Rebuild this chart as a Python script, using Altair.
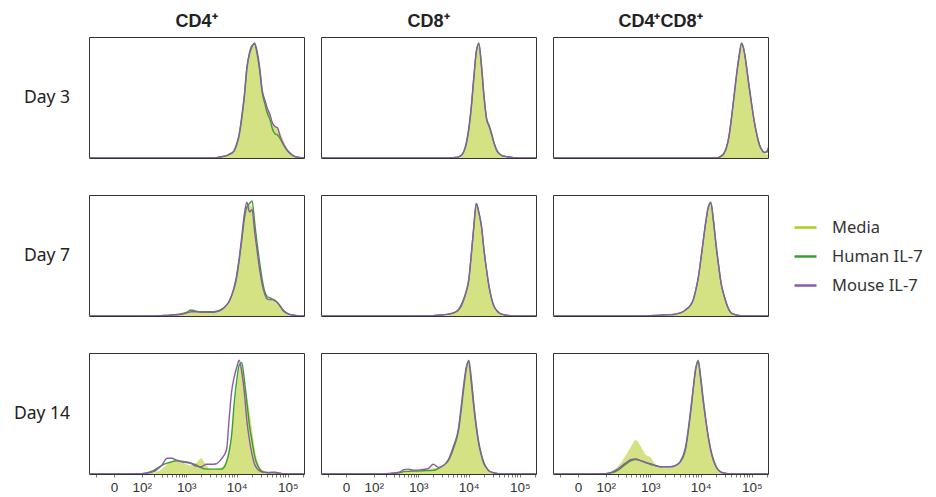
import altair as alt
import pandas as pd

# Bin centres (fluorescence intensity)
X_VALUES = [-100, 0, 100, 200, 300, 400, 500, 630, 800, 1000,
            1260, 1580, 2000, 2510, 3160, 3980, 5010, 6310, 7080, 7940,
            8910, 10000, 11200, 12600, 14100, 15800, 17800, 20000, 22400, 25100,
            28200, 31600, 35500, 39800, 44700, 50100, 56200, 63100, 70800, 79400,
            89100, 100000, 112000, 126000, 141000, 158000, 178000, 200000, 224000]

SERIES = ["Media", "Human IL-7", "Mouse IL-7"]
COLORS = ["#b3ca1f", "#3c9d35", "#8b5aa9"]
MARKERS = ["CD4⁺", "CD8⁺", "CD4⁺CD8⁺"]
DAYS = ["Day 3", "Day 7", "Day 14"]
TICK_VALUES = [0, 100, 1000, 10000, 100000]
TICK_LABELS = ["0", "10²", "10³", "10⁴", "10⁵"]
MINOR_TICKS = [-50, 200, 300, 400, 500, 600, 700, 800, 900,
               2000, 3000, 4000, 5000, 6000, 7000, 8000, 9000,
               20000, 30000, 40000, 50000, 60000, 70000, 80000, 90000, 200000]

# ---- Day 3 ----
CD4_D3_MEDIA = [0, 0, 0, 0, 0, 0, 0, 0, 0, 0,
                0, 0, 0, 0, 0, 0.4, 1.2, 2.3, 3.3, 4.5,
                7, 13, 21, 36, 53, 76, 86, 91, 93, 87,
                76, 58, 50, 42, 37, 30, 27, 25, 21, 16,
                11, 7, 4.5, 2.5, 1.3, 0.7, 0.3, 0.1, 0]
CD4_D3_HUMAN = [0, 0, 0, 0, 0, 0, 0, 0, 0, 0,
                0, 0, 0, 0, 0, 0.3, 1, 2, 3, 4,
                6, 11, 19, 33, 50, 73, 87, 93, 94, 86,
                72, 54, 45, 37, 32, 24, 20, 19, 16, 12,
                8.5, 5.5, 3.5, 2, 1, 0.6, 0.3, 0.1, 0]
CD4_D3_MOUSE = [0, 0, 0, 0, 0, 0, 0, 0, 0, 0,
                0, 0, 0, 0, 0, 0.3, 1, 2, 3, 4,
                6, 12, 20, 35, 52, 75, 86, 92, 95, 88,
                75, 56, 48, 41, 36, 29, 26, 25, 18, 13,
                9, 6, 4, 2.3, 1.2, 0.7, 0.3, 0.1, 0]

CD8_D3_MEDIA = [0, 0, 0, 0, 0, 0, 0, 0, 0, 0,
                0, 0, 0, 0, 0, 0, 0.3, 1, 2, 5,
                12, 24, 42, 66, 87, 93, 75, 50, 33, 27,
                20, 13, 6.5, 3.5, 2, 1.5, 1, 0.8, 0.5, 0.3,
                0.2, 0, 0, 0, 0, 0, 0, 0, 0]
CD8_D3_HUMAN = [0, 0, 0, 0, 0, 0, 0, 0, 0, 0,
                0, 0, 0, 0, 0, 0, 0.3, 1, 2, 5,
                11, 23, 41, 66, 88, 95, 77, 51, 33, 27,
                20, 12, 6.5, 3.5, 2, 1.5, 1, 0.8, 0.5, 0.3,
                0.2, 0, 0, 0, 0, 0, 0, 0, 0]
CD8_D3_MOUSE = [0, 0, 0, 0, 0, 0, 0, 0, 0, 0,
                0, 0, 0, 0, 0, 0, 0.3, 1, 2, 5,
                12, 24, 42, 67, 88, 94, 75, 50, 32, 26,
                19, 12, 6, 3.5, 2, 1.5, 1, 0.8, 0.5, 0.3,
                0.2, 0, 0, 0, 0, 0, 0, 0, 0]

DP_D3_MEDIA = [0, 0, 0, 0, 0, 0, 0, 0, 0, 0,
               0, 0, 0, 0, 0, 0, 0, 0, 0, 0,
               0, 0, 0, 0, 0, 0, 0, 0.5, 1, 2.5,
               5, 10, 19, 34, 52, 70, 84, 92, 86, 73,
               57, 42, 29, 18, 10, 6, 4, 3, 2]
DP_D3_HUMAN = [0, 0, 0, 0, 0, 0, 0, 0, 0, 0,
               0, 0, 0, 0, 0, 0, 0, 0, 0, 0,
               0, 0, 0, 0, 0, 0, 0, 0.2, 0.5, 1.5,
               3.5, 8, 17, 32, 50, 68, 84, 95, 89, 75,
               59, 44, 30, 19, 11, 6.5, 4.5, 5, 9]
DP_D3_MOUSE = [0, 0, 0, 0, 0, 0, 0, 0, 0, 0,
               0, 0, 0, 0, 0, 0, 0, 0, 0, 0,
               0, 0, 0, 0, 0, 0, 0, 0.2, 0.5, 1.5,
               3.5, 8, 17, 32, 50, 68, 83, 94, 88, 74,
               58, 43, 30, 19, 11, 6.5, 4.5, 6, 13]

# ---- Day 7 ----
CD4_D7_MEDIA = [0, 0, 0, 0, 0.3, 0.5, 0.8, 1, 1.5, 2.5,
                3.5, 3.5, 3, 3, 3, 3.5, 5, 9, 12, 17,
                24, 33, 47, 65, 82, 91, 92, 90, 74, 57,
                41, 28, 19, 15, 14, 14, 13, 11, 8, 5,
                3, 2, 1.2, 0.8, 0.4, 0.2, 0, 0, 0]
CD4_D7_HUMAN = [0, 0, 0, 0, 0.3, 0.5, 0.8, 1.2, 2, 3,
                5, 4, 3.5, 3.5, 3.5, 4, 5.5, 9, 12, 17,
                23, 32, 46, 63, 80, 90, 93, 95, 78, 60,
                44, 30, 20, 16, 15, 14, 13, 11, 8.5, 5.5,
                3.5, 2, 1.2, 0.8, 0.4, 0.2, 0, 0, 0]
CD4_D7_MOUSE = [0, 0, 0, 0, 0.3, 0.5, 0.8, 1, 1.3, 2.5,
                3.5, 3.5, 3, 3, 3, 3.5, 5, 9, 12, 17,
                24, 34, 48, 66, 84, 94, 86, 88, 70, 54,
                38, 26, 18, 14, 13.5, 13.5, 12.5, 11, 8, 5,
                3, 2, 1.2, 0.8, 0.4, 0.2, 0, 0, 0]

CD8_D7_MEDIA = [0, 0, 0, 0, 0, 0, 0, 0, 0, 0,
                0, 0, 0.3, 0.6, 1, 1.5, 2.5, 5, 8, 13,
                20, 30, 50, 73, 91, 85, 73, 54, 38, 24,
                14, 7.7, 4.5, 2.5, 1.5, 1, 0.5, 0.3, 0, 0,
                0, 0, 0, 0, 0, 0, 0, 0, 0]
CD8_D7_HUMAN = [0, 0, 0, 0, 0, 0, 0, 0, 0, 0,
                0, 0, 0.3, 0.6, 1, 1.5, 2.5, 5.5, 9, 14,
                20, 30, 50, 74, 93, 86, 74, 54, 38, 24,
                14, 7.7, 4.5, 2.5, 1.5, 1, 0.5, 0.3, 0, 0,
                0, 0, 0, 0, 0, 0, 0, 0, 0]
CD8_D7_MOUSE = [0, 0, 0, 0, 0, 0, 0, 0, 0, 0,
                0, 0, 0.3, 0.6, 1, 1.5, 2.5, 5, 8, 13,
                20, 29, 50, 74, 93, 85, 74, 54, 38, 24,
                14, 7.7, 4.5, 2.5, 1.5, 1, 0.5, 0.3, 0, 0,
                0, 0, 0, 0, 0, 0, 0, 0, 0]

DP_D7_MEDIA = [0, 0, 0, 0, 0, 0, 0, 0, 0, 0.3,
               0.5, 0.7, 0.9, 1.1, 1.5, 2.5, 5, 9, 13, 21,
               31, 46, 62, 78, 89, 92, 78, 58, 42, 27,
               18, 11, 5.5, 2.5, 1.5, 0.8, 0.4, 0, 0, 0,
               0, 0, 0, 0, 0, 0, 0, 0, 0]
DP_D7_HUMAN = [0, 0, 0, 0, 0, 0, 0, 0, 0, 0.3,
               0.5, 0.7, 0.9, 1.1, 1.5, 2.5, 5, 9, 13, 21,
               31, 46, 62, 78, 90, 94, 79, 59, 42, 27,
               18, 11, 5.5, 2.5, 1.5, 0.8, 0.4, 0, 0, 0,
               0, 0, 0, 0, 0, 0, 0, 0, 0]
DP_D7_MOUSE = [0, 0, 0, 0, 0, 0, 0, 0, 0, 0.3,
               0.5, 0.7, 0.9, 1.1, 1.5, 2.5, 5, 9, 13, 21,
               31, 46, 62, 78, 90, 93, 78, 58, 42, 27,
               18, 11, 5.5, 2.5, 1.5, 0.8, 0.4, 0, 0, 0,
               0, 0, 0, 0, 0, 0, 0, 0, 0]

# ---- Day 14 ----
CD4_D14_MEDIA = [0, 0, 0, 1, 4, 8, 11, 12, 10, 8,
                 7, 9, 13, 7, 4, 4.5, 5.5, 12, 22, 35,
                 52, 70, 86, 90, 76, 64, 52, 37, 22, 12,
                 6, 3.5, 2.5, 1.5, 1, 1, 0.8, 0.5, 0.3, 0,
                 0, 0, 0, 0, 0, 0, 0, 0, 0]
CD4_D14_HUMAN = [0, 0, 0.3, 3, 7, 9, 10, 11, 10.5, 10,
                 9, 7.5, 5, 4, 4, 4, 4, 10, 18, 32,
                 58, 77, 90, 92, 78, 60, 40, 27, 15, 8,
                 4, 2, 1.3, 1, 1, 1, 1, 0.6, 0.4, 0.2,
                 0, 0, 0, 0, 0, 0, 0, 0, 0]
CD4_D14_MOUSE = [0, 0, 0.2, 2, 7, 13, 13, 11.5, 10, 9.5,
                 8.5, 6.5, 6, 8, 8, 8.5, 12.5, 20, 45, 68,
                 80, 88, 94, 84, 68, 44, 28, 16, 8, 4.5,
                 2.5, 1.7, 1.5, 1.3, 1.3, 1.5, 1.5, 1, 0.6, 0.3,
                 0.2, 0, 0, 0, 0, 0, 0, 0, 0]

CD8_D14_MEDIA = [0, 0, 0, 0.1, 0.6, 1.2, 2.5, 2.8, 3, 3.2,
                 3.5, 4, 5, 5, 7, 12, 22, 37, 53, 71,
                 87, 93, 79, 58, 40, 26, 16, 9, 5, 2.5,
                 1.5, 0.8, 0.4, 0.2, 0, 0, 0, 0, 0, 0,
                 0, 0, 0, 0, 0, 0, 0, 0, 0]
CD8_D14_HUMAN = [0, 0, 0, 0.1, 0.5, 1, 2, 2.2, 2.4, 2.5,
                 2.7, 2.8, 3, 4.5, 7, 11, 21, 36, 52, 70,
                 86, 94, 80, 58, 40, 26, 16, 9, 5, 2.5,
                 1.5, 0.8, 0.4, 0.2, 0, 0, 0, 0, 0, 0,
                 0, 0, 0, 0, 0, 0, 0, 0, 0]
CD8_D14_MOUSE = [0, 0, 0, 0.2, 0.8, 1.5, 3.5, 4, 3.2, 3.2,
                 3.8, 4.5, 8, 5.5, 7, 12, 23, 38, 55, 73,
                 88, 93, 76, 55, 38, 24.5, 15, 8, 5, 2.5,
                 1.5, 0.8, 0.4, 0.2, 0, 0, 0, 0, 0, 0,
                 0, 0, 0, 0, 0, 0, 0, 0, 0]

DP_D14_MEDIA = [0, 0, 0.5, 6, 15, 23, 28, 23, 16, 14,
                8, 5.5, 5, 5, 7, 9, 20, 50, 68, 85,
                93, 80, 62, 46, 32, 21, 12, 6.5, 3.2, 1.6,
                0.8, 0.4, 0.2, 0, 0, 0, 0, 0, 0, 0,
                0, 0, 0, 0, 0, 0, 0, 0, 0]
DP_D14_HUMAN = [0, 0, 0.3, 3, 8, 11, 12, 11, 9.5, 8,
                7, 6, 6, 6, 7, 10, 20, 50, 69, 86,
                94, 80, 62, 45, 31, 20, 12, 6.5, 3.2, 1.6,
                0.8, 0.4, 0.2, 0, 0, 0, 0, 0, 0, 0,
                0, 0, 0, 0, 0, 0, 0, 0, 0]
DP_D14_MOUSE = [0, 0, 0.3, 4, 9, 12, 12.5, 11, 9.5, 8.5,
                7, 6, 6, 6, 7, 10.5, 22, 52, 70, 87,
                93, 78, 60, 44, 30, 19, 11, 6, 3, 1.5,
                0.8, 0.4, 0.2, 0, 0, 0, 0, 0, 0, 0,
                0, 0, 0, 0, 0, 0, 0, 0, 0]

PANELS = {
    ("Day 3", "CD4⁺"): [CD4_D3_MEDIA, CD4_D3_HUMAN, CD4_D3_MOUSE],
    ("Day 3", "CD8⁺"): [CD8_D3_MEDIA, CD8_D3_HUMAN, CD8_D3_MOUSE],
    ("Day 3", "CD4⁺CD8⁺"): [DP_D3_MEDIA, DP_D3_HUMAN, DP_D3_MOUSE],
    ("Day 7", "CD4⁺"): [CD4_D7_MEDIA, CD4_D7_HUMAN, CD4_D7_MOUSE],
    ("Day 7", "CD8⁺"): [CD8_D7_MEDIA, CD8_D7_HUMAN, CD8_D7_MOUSE],
    ("Day 7", "CD4⁺CD8⁺"): [DP_D7_MEDIA, DP_D7_HUMAN, DP_D7_MOUSE],
    ("Day 14", "CD4⁺"): [CD4_D14_MEDIA, CD4_D14_HUMAN, CD4_D14_MOUSE],
    ("Day 14", "CD8⁺"): [CD8_D14_MEDIA, CD8_D14_HUMAN, CD8_D14_MOUSE],
    ("Day 14", "CD4⁺CD8⁺"): [DP_D14_MEDIA, DP_D14_HUMAN, DP_D14_MOUSE],
}

rows = []
for (day, marker), lists in PANELS.items():
    for s, vals in zip(SERIES, lists):
        assert len(vals) == len(X_VALUES), (day, marker, s, len(vals))
        for xv, yv in zip(X_VALUES, vals):
            rows.append({"day": day, "marker": marker, "series": s, "x": xv, "count": yv})
df = pd.DataFrame(rows)

label_expr = " : ".join(f"datum.value == {v} ? '{l}'" for v, l in zip(TICK_VALUES, TICK_LABELS)) + " : ''"

xenc = alt.X(
    "x:Q",
    scale=alt.Scale(type="symlog", constant=40, domain=[-83, 207500], nice=False, zero=False),
    axis=alt.Axis(
        values=TICK_VALUES + MINOR_TICKS, labelExpr=label_expr, title=None, grid=False,
        domain=False, ticks=True, tickSize=3, tickColor="#555", tickWidth=0.8,
        labelFont="Liberation Sans", labelFontSize=13.5, labelColor="#333",
        labelPadding=3, labelOverlap=False, labelFlush=False,
    ),
)
yenc = alt.Y("count:Q", scale=alt.Scale(domain=[0, 100], nice=False), axis=None)
color = alt.Color("series:N", scale=alt.Scale(domain=SERIES, range=COLORS), title=None)

area = alt.Chart().transform_filter(alt.datum.series == "Media").mark_area(
    fillOpacity=0.55, interpolate="monotone", clip=True
).encode(x=xenc, y=yenc, color=color)

lines = alt.Chart().transform_filter(alt.datum.series != "Media").mark_line(
    strokeWidth=1.4, interpolate="monotone", clip=True
).encode(x=xenc, y=yenc, color=color)

chart = alt.layer(area, lines, data=df).properties(width=215, height=121).facet(
    row=alt.Row("day:N", sort=DAYS, header=alt.Header(
        title=None, labelAngle=0, labelOrient="left", labelAlign="left",
        labelFont="Noto Sans", labelFontSize=17.5, labelColor="#222", labelPadding=19,
    )),
    column=alt.Column("marker:N", sort=MARKERS, header=alt.Header(
        title=None, labelFont="Liberation Sans", labelFontSize=18, labelFontWeight="bold",
        labelColor="#222", labelPadding=6,
    )),
    spacing={"row": 37, "column": 17},
).properties(
    bounds="flush", padding={"left": 5, "top": 5, "right": 5, "bottom": 0}
).configure_view(
    stroke="#333", strokeWidth=1
).configure_legend(
    orient="none", legendX=704, legendY=178,
    symbolType="stroke", symbolSize=484, symbolStrokeWidth=2.5, symbolOpacity=1,
    labelFont="Noto Sans", labelFontSize=16.5, labelColor="#333",
    rowPadding=8, labelOffset=14,
)

chart.save("out.html", embed_options={"renderer": "svg", "actions": False})
